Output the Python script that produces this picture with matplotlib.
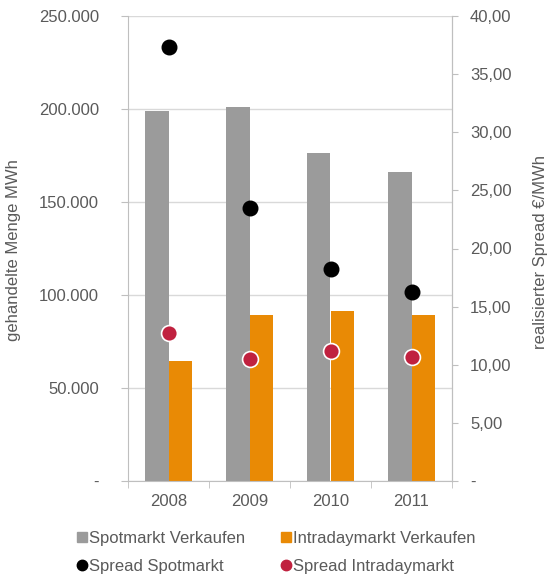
import matplotlib.pyplot as plt
from matplotlib.lines import Line2D
import numpy as np

plt.rcParams['font.family'] = ['Liberation Sans', 'DejaVu Sans']

years = ["2008", "2009", "2010", "2011"]
spot_volume = [199000, 201200, 176400, 166100]
intraday_volume = [64700, 89000, 91200, 89000]
spread_spot = [37.35, 23.5, 18.2, 16.3]
spread_intraday = [12.75, 10.5, 11.2, 10.7]

left_ticks = [0, 50000, 100000, 150000, 200000, 250000]
left_ticklabels = ["-", "50.000", "100.000", "150.000", "200.000", "250.000"]
right_ticks = [0, 5, 10, 15, 20, 25, 30, 35, 40]
right_ticklabels = ["-", "5,00", "10,00", "15,00", "20,00", "25,00", "30,00", "35,00", "40,00"]

GRAY = '#9b9b9b'
ORANGE = '#e98a05'
RED = '#c0213f'
TXT = '#5a5a5a'
AXC = '#bfbfbf'

fig = plt.figure(figsize=(5.51, 5.78), dpi=100)
ax = fig.add_axes([128 / 551, 1 - 481 / 578, 324 / 551, 465 / 578])
ax2 = ax.twinx()

x = np.arange(len(years))
w = 0.285
ax.bar(x - w / 2, spot_volume, w, color=GRAY, zorder=2)
ax.bar(x + w / 2, intraday_volume, w, color=ORANGE, zorder=2)

# spreads on the right axis
ax2.scatter(x, spread_spot, s=110, color='black', zorder=3)
ax2.scatter(x, spread_intraday, s=130, color=RED, edgecolors='white', linewidths=1.2, zorder=3)

ax.set_xlim(-0.5, len(years) - 0.5)
ax.set_ylim(0, 250000)
ax2.set_ylim(0, 40)

ax.set_yticks(left_ticks)
ax.set_yticklabels(left_ticklabels)
ax2.set_yticks(right_ticks)
ax2.set_yticklabels(right_ticklabels)

ax.set_xticks(x)
ax.set_xticklabels(years)
ax.set_xticks(np.arange(len(years) + 1) - 0.5, minor=True)
ax.tick_params(axis='x', which='major', length=0, pad=9, labelsize=12, labelcolor=TXT)
ax.tick_params(axis='x', which='minor', length=5, color=AXC, direction='out')
ax.tick_params(axis='y', length=5, color=AXC, pad=16, labelsize=12, labelcolor=TXT)
ax2.tick_params(axis='y', length=4, color=AXC, pad=9, labelsize=12, labelcolor=TXT)

ax.yaxis.grid(True, color='#d9d9d9', linewidth=1)
ax.set_axisbelow(True)

for a in (ax, ax2):
    a.spines['top'].set_visible(False)
    for s in ('left', 'right', 'bottom'):
        a.spines[s].set_color(AXC)
ax2.spines['left'].set_visible(False)
ax2.spines['bottom'].set_visible(False)

fig.text(14 / 551, 1 - 250 / 578, "gehandelte Menge MWh", rotation=90,
         ha='center', va='center', fontsize=12, color=TXT)
fig.text(540 / 551, 1 - 252 / 578, "realisierter Spread €/MWh", rotation=90,
         ha='center', va='center', fontsize=12, color=TXT)

handles = [
    Line2D([], [], marker='s', linestyle='none', color=GRAY, markersize=6.5),
    Line2D([], [], marker='o', linestyle='none', color='black', markersize=7.5),
    Line2D([], [], marker='s', linestyle='none', color=ORANGE, markersize=6.5),
    Line2D([], [], marker='o', linestyle='none', color=RED, markersize=7.5),
]
labels = ["Spotmarkt Verkaufen", "Spread Spotmarkt",
          "Intradaymarkt Verkaufen", "Spread Intradaymarkt"]
leg = fig.legend(handles, labels, ncol=2, loc='center left',
                 bbox_to_anchor=(77 / 551, 1 - 552.5 / 578), frameon=False,
                 fontsize=12, handlelength=0.6, handletextpad=0.1,
                 columnspacing=2.2, labelspacing=0.75, borderpad=0, borderaxespad=0)
for t in leg.get_texts():
    t.set_color(TXT)

fig.savefig('out.png', dpi=100)
